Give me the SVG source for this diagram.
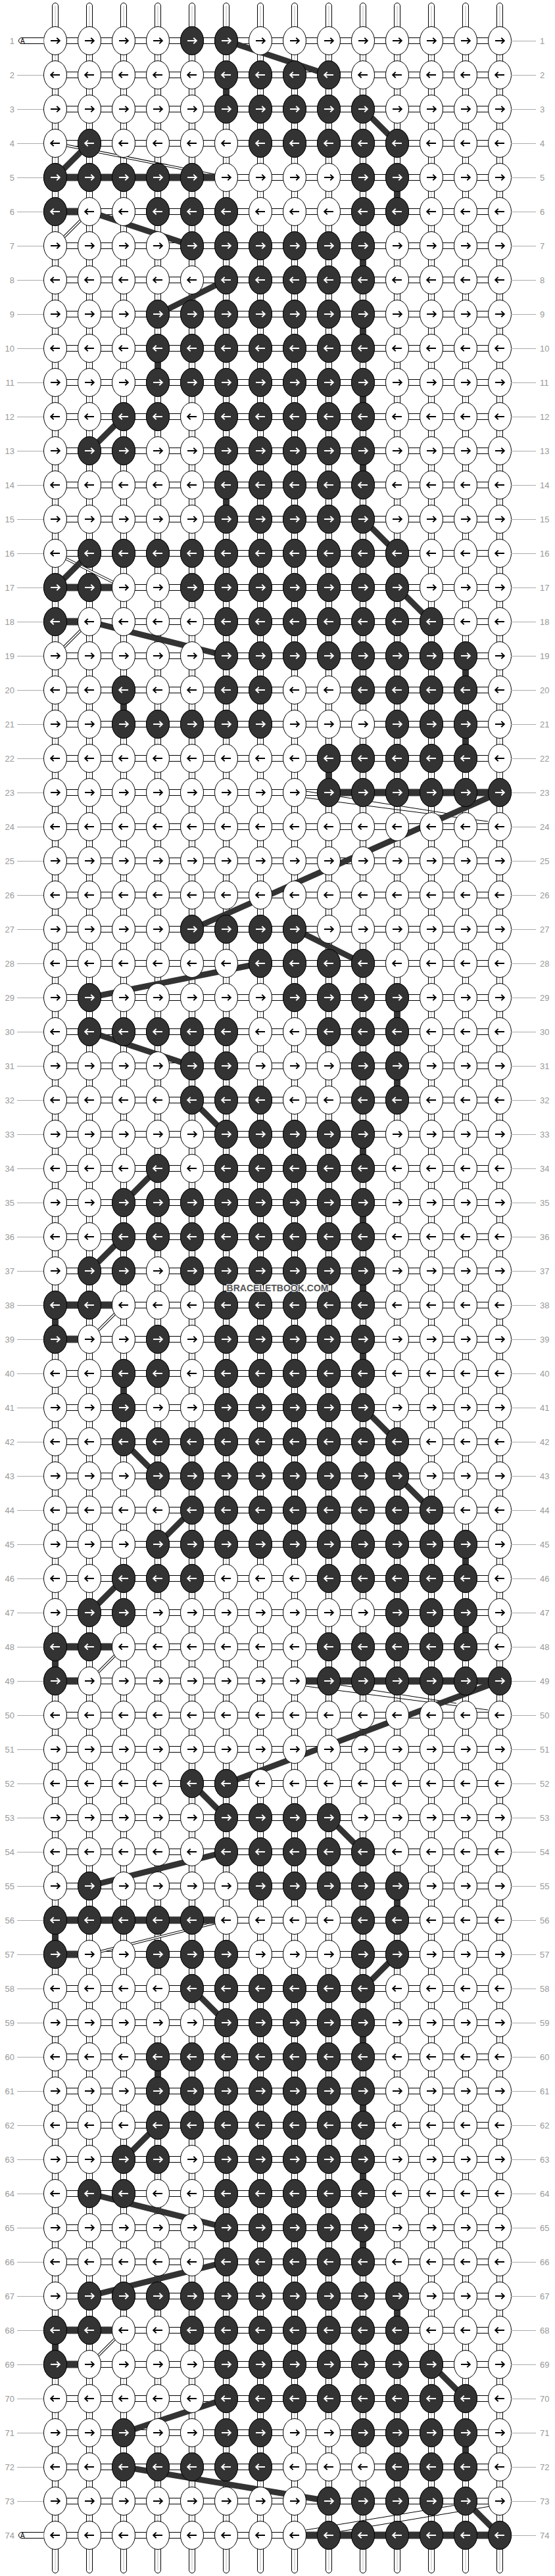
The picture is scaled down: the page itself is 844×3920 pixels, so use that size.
<svg xmlns="http://www.w3.org/2000/svg" xmlns:xlink="http://www.w3.org/1999/xlink" width="844" height="3920" viewBox="0 0 844 3920">
<style>
text{font-family:"Liberation Sans",Arial,sans-serif}
.n{font-size:13px;fill:#999}
.l{text-anchor:end}
.gl{stroke:#aaa;stroke-width:1;fill:none}
.R{fill:url(#dkR)}
.L{fill:url(#dkL)}
.wo{stroke:#000;stroke-width:4;fill:none}
.wi{stroke:#fff;stroke-width:2;fill:none}
</style>
<defs>
<pattern id="hbar" patternUnits="userSpaceOnUse" x="84" y="36" width="52" height="52"><rect y="21.5" width="52" height="9" fill="#fff"/><path d="M0,21.5H52M0,30.5H52" stroke="#000"/></pattern>
<pattern id="vbar" patternUnits="userSpaceOnUse" x="58" y="36" width="52" height="52"><rect x="21.5" width="9" height="52" fill="#fff"/><path d="M21.5,0V52M30.5,0V52" stroke="#000"/><path d="M26,0V52" stroke="#bbb"/></pattern>
<pattern id="stubT" patternUnits="userSpaceOnUse" x="58" y="4" width="52" height="40"><rect x="21.5" y="0.5" width="9" height="50" rx="4.5" fill="#fff" stroke="#000"/><path d="M26,5V40" stroke="#bbb"/></pattern>
<pattern id="stubB" patternUnits="userSpaceOnUse" x="58" y="3876" width="52" height="40"><rect x="21.5" y="-11" width="9" height="50.5" rx="4.5" fill="#fff" stroke="#000"/><path d="M26,0V35" stroke="#bbb"/></pattern>
<pattern id="wk" patternUnits="userSpaceOnUse" x="58" y="36" width="52" height="104"><ellipse cx="26" cy="26" rx="17.5" ry="21.5" fill="#fff" stroke="#000"/><path d="M19,26H32.5M28.3,21.6L32.8,26L28.3,30.4" fill="none" stroke="#000" stroke-width="2"/><ellipse cx="26" cy="78" rx="17.5" ry="21.5" fill="#fff" stroke="#000"/><path d="M33,78H19.5M23.7,73.6L19.2,78L23.7,82.4" fill="none" stroke="#000" stroke-width="2"/></pattern>
<pattern id="dkR" patternUnits="userSpaceOnUse" x="58" y="-26" width="52" height="52"><ellipse cx="26" cy="26" rx="17.5" ry="21.5" fill="#333" stroke="#000"/><path d="M19,26H32.5M28.3,21.6L32.8,26L28.3,30.4" fill="none" stroke="#fff" stroke-width="2"/></pattern>
<pattern id="dkL" patternUnits="userSpaceOnUse" x="58" y="-26" width="52" height="52"><ellipse cx="26" cy="26" rx="17.5" ry="21.5" fill="#333" stroke="#000"/><path d="M33,26H19.5M23.7,21.6L19.2,26L23.7,30.4" fill="none" stroke="#fff" stroke-width="2"/></pattern>
<path id="wt" d="M84,218L344,270M136,322L84,374M84,842L188,894M136,946L84,998M188,1986L136,2038M188,2506L136,2558M344,2922L136,2974M188,3546L136,3598"/>
</defs>
<rect width="844" height="3920" fill="#fff"/>
<g id="strings">
<rect x="84" y="36" width="676" height="3848" fill="url(#hbar)"/>
<rect x="58" y="62" width="728" height="3796" fill="url(#vbar)"/>
<rect x="58" y="4" width="728" height="40" fill="url(#stubT)"/>
<rect x="58" y="3876" width="728" height="40" fill="url(#stubB)"/>
</g>
<g id="connectors">
<use href="#wt" class="wo"/><use href="#wt" class="wi"/>
<path fill="none" stroke="#000" stroke-width="1" d="M465,1204L694,1240M465,1214L742,1250M465,2556L694,2592M465,2566L742,2602M465,3850L694,3812M465,3861L745,3814"/>
<path fill="#333" d="M84,264.5h260v11h-260zM84,316.5h52v11h-52zM84,888.5h104v11h-104zM84,940.5h52v11h-52zM500,1200.5h260v11h-260zM84,1980.5h104v11h-104zM84,2032.5h52v11h-52zM84,2500.5h104v11h-104zM84,2552.5h52v11h-52zM448,2552.5h312v11h-312zM84,2916.5h260v11h-260zM84,2968.5h52v11h-52zM84,3540.5h104v11h-104zM84,3592.5h52v11h-52zM448,3852.5h312v11h-312z"/>
<path fill="#333" d="M339,129h10v22h-10zM599,285h10v22h-10zM547,389h10v22h-10zM547,493h10v22h-10zM235,545h10v22h-10zM547,597h10v22h-10zM547,701h10v22h-10zM339,753h10v22h-10zM703,1013h10v22h-10zM183,1065h10v22h-10zM703,1117h10v22h-10zM495,1169h10v22h-10zM599,1533h10v22h-10zM599,1637h10v22h-10zM547,1741h10v22h-10zM547,1845h10v22h-10zM547,1949h10v22h-10zM79,2001h10v22h-10zM547,2053h10v22h-10zM183,2105h10v22h-10zM703,2365h10v22h-10zM703,2469h10v22h-10zM79,2521h10v22h-10zM599,2885h10v22h-10zM79,2937h10v22h-10zM547,3093h10v22h-10zM235,3145h10v22h-10zM547,3197h10v22h-10zM547,3301h10v22h-10zM547,3405h10v22h-10zM599,3509h10v22h-10zM79,3561h10v22h-10zM703,3717h10v22h-10z"/>
<path fill="none" stroke="#333" stroke-width="9" d="M344,62L500,114M552,166L604,218M84,270L136,218M136,322L292,374M344,426L240,478M188,634L136,686M552,790L604,842M84,894L136,842M604,894L656,946M136,946L344,998M760,1206L292,1414M448,1414L552,1466M396,1466L136,1518M136,1570L292,1622M292,1674L344,1726M240,1778L188,1830M188,1882L136,1934M552,2142L604,2194M188,2194L240,2246M604,2246L656,2298M292,2298L240,2350M188,2402L136,2454M760,2558L344,2714M292,2714L344,2766M500,2766L552,2818M344,2818L136,2870M604,2974L552,3026M292,3026L344,3078M240,3234L188,3286M136,3338L344,3390M344,3442L136,3494M656,3598L708,3650M344,3650L188,3702M188,3754L500,3806M708,3806L760,3858"/>
</g>
<g id="knots"><rect x="58" y="36" width="728" height="3848" fill="url(#wk)"/></g>
<g id="rows">
<g id="row-1" transform="translate(0,62)"><path d="M66.5,-4.5H33a4.5,4.5 0 0 0 0,9H66.5" fill="#fff" stroke="#000"/><text x="31" y="4" font-size="10">A</text><path class="gl" d="M777,.5H815"/><text class="n l" x="22" y="4.5">1</text><text class="n" x="821" y="4.5">1</text><rect class="R" x="266" y="-26" width="104" height="52"/></g>
<g id="row-2" transform="translate(0,114)"><path class="gl" d="M26,.5H66M777,.5H815"/><text class="n l" x="22" y="4.5">2</text><text class="n" x="821" y="4.5">2</text><rect class="L" x="318" y="-26" width="208" height="52"/></g>
<g id="row-3" transform="translate(0,166)"><path class="gl" d="M26,.5H66M777,.5H815"/><text class="n l" x="22" y="4.5">3</text><text class="n" x="821" y="4.5">3</text><rect class="R" x="318" y="-26" width="260" height="52"/></g>
<g id="row-4" transform="translate(0,218)"><path class="gl" d="M26,.5H66M777,.5H815"/><text class="n l" x="22" y="4.5">4</text><text class="n" x="821" y="4.5">4</text><rect class="L" x="110" y="-26" width="52" height="52"/><rect class="L" x="370" y="-26" width="260" height="52"/></g>
<g id="row-5" transform="translate(0,270)"><path class="gl" d="M26,.5H66M777,.5H815"/><text class="n l" x="22" y="4.5">5</text><text class="n" x="821" y="4.5">5</text><rect class="R" x="58" y="-26" width="260" height="52"/><rect class="R" x="526" y="-26" width="104" height="52"/></g>
<g id="row-6" transform="translate(0,322)"><path class="gl" d="M26,.5H66M777,.5H815"/><text class="n l" x="22" y="4.5">6</text><text class="n" x="821" y="4.5">6</text><rect class="L" x="58" y="-26" width="52" height="52"/><rect class="L" x="214" y="-26" width="156" height="52"/><rect class="L" x="526" y="-26" width="104" height="52"/></g>
<g id="row-7" transform="translate(0,374)"><path class="gl" d="M26,.5H66M777,.5H815"/><text class="n l" x="22" y="4.5">7</text><text class="n" x="821" y="4.5">7</text><rect class="R" x="266" y="-26" width="312" height="52"/></g>
<g id="row-8" transform="translate(0,426)"><path class="gl" d="M26,.5H66M777,.5H815"/><text class="n l" x="22" y="4.5">8</text><text class="n" x="821" y="4.5">8</text><rect class="L" x="318" y="-26" width="260" height="52"/></g>
<g id="row-9" transform="translate(0,478)"><path class="gl" d="M26,.5H66M777,.5H815"/><text class="n l" x="22" y="4.5">9</text><text class="n" x="821" y="4.5">9</text><rect class="R" x="214" y="-26" width="364" height="52"/></g>
<g id="row-10" transform="translate(0,530)"><path class="gl" d="M26,.5H66M777,.5H815"/><text class="n l" x="22" y="4.5">10</text><text class="n" x="821" y="4.5">10</text><rect class="L" x="214" y="-26" width="364" height="52"/></g>
<g id="row-11" transform="translate(0,582)"><path class="gl" d="M26,.5H66M777,.5H815"/><text class="n l" x="22" y="4.5">11</text><text class="n" x="821" y="4.5">11</text><rect class="R" x="214" y="-26" width="364" height="52"/></g>
<g id="row-12" transform="translate(0,634)"><path class="gl" d="M26,.5H66M777,.5H815"/><text class="n l" x="22" y="4.5">12</text><text class="n" x="821" y="4.5">12</text><rect class="L" x="162" y="-26" width="104" height="52"/><rect class="L" x="318" y="-26" width="260" height="52"/></g>
<g id="row-13" transform="translate(0,686)"><path class="gl" d="M26,.5H66M777,.5H815"/><text class="n l" x="22" y="4.5">13</text><text class="n" x="821" y="4.5">13</text><rect class="R" x="110" y="-26" width="104" height="52"/><rect class="R" x="318" y="-26" width="260" height="52"/></g>
<g id="row-14" transform="translate(0,738)"><path class="gl" d="M26,.5H66M777,.5H815"/><text class="n l" x="22" y="4.5">14</text><text class="n" x="821" y="4.5">14</text><rect class="L" x="318" y="-26" width="260" height="52"/></g>
<g id="row-15" transform="translate(0,790)"><path class="gl" d="M26,.5H66M777,.5H815"/><text class="n l" x="22" y="4.5">15</text><text class="n" x="821" y="4.5">15</text><rect class="R" x="318" y="-26" width="260" height="52"/></g>
<g id="row-16" transform="translate(0,842)"><path class="gl" d="M26,.5H66M777,.5H815"/><text class="n l" x="22" y="4.5">16</text><text class="n" x="821" y="4.5">16</text><rect class="L" x="110" y="-26" width="520" height="52"/></g>
<g id="row-17" transform="translate(0,894)"><path class="gl" d="M26,.5H66M777,.5H815"/><text class="n l" x="22" y="4.5">17</text><text class="n" x="821" y="4.5">17</text><rect class="R" x="58" y="-26" width="104" height="52"/><rect class="R" x="266" y="-26" width="364" height="52"/></g>
<g id="row-18" transform="translate(0,946)"><path class="gl" d="M26,.5H66M777,.5H815"/><text class="n l" x="22" y="4.5">18</text><text class="n" x="821" y="4.5">18</text><rect class="L" x="58" y="-26" width="52" height="52"/><rect class="L" x="318" y="-26" width="364" height="52"/></g>
<g id="row-19" transform="translate(0,998)"><path class="gl" d="M26,.5H66M777,.5H815"/><text class="n l" x="22" y="4.5">19</text><text class="n" x="821" y="4.5">19</text><rect class="R" x="318" y="-26" width="416" height="52"/></g>
<g id="row-20" transform="translate(0,1050)"><path class="gl" d="M26,.5H66M777,.5H815"/><text class="n l" x="22" y="4.5">20</text><text class="n" x="821" y="4.5">20</text><rect class="L" x="162" y="-26" width="52" height="52"/><rect class="L" x="318" y="-26" width="104" height="52"/><rect class="L" x="526" y="-26" width="208" height="52"/></g>
<g id="row-21" transform="translate(0,1102)"><path class="gl" d="M26,.5H66M777,.5H815"/><text class="n l" x="22" y="4.5">21</text><text class="n" x="821" y="4.5">21</text><rect class="R" x="162" y="-26" width="260" height="52"/><rect class="R" x="578" y="-26" width="156" height="52"/></g>
<g id="row-22" transform="translate(0,1154)"><path class="gl" d="M26,.5H66M777,.5H815"/><text class="n l" x="22" y="4.5">22</text><text class="n" x="821" y="4.5">22</text><rect class="L" x="474" y="-26" width="260" height="52"/></g>
<g id="row-23" transform="translate(0,1206)"><path class="gl" d="M26,.5H66M777,.5H815"/><text class="n l" x="22" y="4.5">23</text><text class="n" x="821" y="4.5">23</text><rect class="R" x="474" y="-26" width="312" height="52"/></g>
<g id="row-24" transform="translate(0,1258)"><path class="gl" d="M26,.5H66M777,.5H815"/><text class="n l" x="22" y="4.5">24</text><text class="n" x="821" y="4.5">24</text></g>
<g id="row-25" transform="translate(0,1310)"><path class="gl" d="M26,.5H66M777,.5H815"/><text class="n l" x="22" y="4.5">25</text><text class="n" x="821" y="4.5">25</text></g>
<g id="row-26" transform="translate(0,1362)"><path class="gl" d="M26,.5H66M777,.5H815"/><text class="n l" x="22" y="4.5">26</text><text class="n" x="821" y="4.5">26</text></g>
<g id="row-27" transform="translate(0,1414)"><path class="gl" d="M26,.5H66M777,.5H815"/><text class="n l" x="22" y="4.5">27</text><text class="n" x="821" y="4.5">27</text><rect class="R" x="266" y="-26" width="208" height="52"/></g>
<g id="row-28" transform="translate(0,1466)"><path class="gl" d="M26,.5H66M777,.5H815"/><text class="n l" x="22" y="4.5">28</text><text class="n" x="821" y="4.5">28</text><rect class="L" x="370" y="-26" width="208" height="52"/></g>
<g id="row-29" transform="translate(0,1518)"><path class="gl" d="M26,.5H66M777,.5H815"/><text class="n l" x="22" y="4.5">29</text><text class="n" x="821" y="4.5">29</text><rect class="R" x="110" y="-26" width="52" height="52"/><rect class="R" x="422" y="-26" width="208" height="52"/></g>
<g id="row-30" transform="translate(0,1570)"><path class="gl" d="M26,.5H66M777,.5H815"/><text class="n l" x="22" y="4.5">30</text><text class="n" x="821" y="4.5">30</text><rect class="L" x="110" y="-26" width="260" height="52"/><rect class="L" x="474" y="-26" width="156" height="52"/></g>
<g id="row-31" transform="translate(0,1622)"><path class="gl" d="M26,.5H66M777,.5H815"/><text class="n l" x="22" y="4.5">31</text><text class="n" x="821" y="4.5">31</text><rect class="R" x="266" y="-26" width="104" height="52"/><rect class="R" x="526" y="-26" width="104" height="52"/></g>
<g id="row-32" transform="translate(0,1674)"><path class="gl" d="M26,.5H66M777,.5H815"/><text class="n l" x="22" y="4.5">32</text><text class="n" x="821" y="4.5">32</text><rect class="L" x="266" y="-26" width="156" height="52"/><rect class="L" x="526" y="-26" width="104" height="52"/></g>
<g id="row-33" transform="translate(0,1726)"><path class="gl" d="M26,.5H66M777,.5H815"/><text class="n l" x="22" y="4.5">33</text><text class="n" x="821" y="4.5">33</text><rect class="R" x="318" y="-26" width="260" height="52"/></g>
<g id="row-34" transform="translate(0,1778)"><path class="gl" d="M26,.5H66M777,.5H815"/><text class="n l" x="22" y="4.5">34</text><text class="n" x="821" y="4.5">34</text><rect class="L" x="214" y="-26" width="52" height="52"/><rect class="L" x="318" y="-26" width="260" height="52"/></g>
<g id="row-35" transform="translate(0,1830)"><path class="gl" d="M26,.5H66M777,.5H815"/><text class="n l" x="22" y="4.5">35</text><text class="n" x="821" y="4.5">35</text><rect class="R" x="162" y="-26" width="416" height="52"/></g>
<g id="row-36" transform="translate(0,1882)"><path class="gl" d="M26,.5H66M777,.5H815"/><text class="n l" x="22" y="4.5">36</text><text class="n" x="821" y="4.5">36</text><rect class="L" x="162" y="-26" width="416" height="52"/></g>
<g id="row-37" transform="translate(0,1934)"><path class="gl" d="M26,.5H66M777,.5H815"/><text class="n l" x="22" y="4.5">37</text><text class="n" x="821" y="4.5">37</text><rect class="R" x="110" y="-26" width="104" height="52"/><rect class="R" x="266" y="-26" width="312" height="52"/></g>
<g id="row-38" transform="translate(0,1986)"><path class="gl" d="M26,.5H66M777,.5H815"/><text class="n l" x="22" y="4.5">38</text><text class="n" x="821" y="4.5">38</text><rect class="L" x="58" y="-26" width="104" height="52"/><rect class="L" x="318" y="-26" width="260" height="52"/></g>
<g id="row-39" transform="translate(0,2038)"><path class="gl" d="M26,.5H66M777,.5H815"/><text class="n l" x="22" y="4.5">39</text><text class="n" x="821" y="4.5">39</text><rect class="R" x="58" y="-26" width="52" height="52"/><rect class="R" x="214" y="-26" width="52" height="52"/><rect class="R" x="318" y="-26" width="260" height="52"/></g>
<g id="row-40" transform="translate(0,2090)"><path class="gl" d="M26,.5H66M777,.5H815"/><text class="n l" x="22" y="4.5">40</text><text class="n" x="821" y="4.5">40</text><rect class="L" x="162" y="-26" width="104" height="52"/><rect class="L" x="318" y="-26" width="260" height="52"/></g>
<g id="row-41" transform="translate(0,2142)"><path class="gl" d="M26,.5H66M777,.5H815"/><text class="n l" x="22" y="4.5">41</text><text class="n" x="821" y="4.5">41</text><rect class="R" x="162" y="-26" width="52" height="52"/><rect class="R" x="318" y="-26" width="260" height="52"/></g>
<g id="row-42" transform="translate(0,2194)"><path class="gl" d="M26,.5H66M777,.5H815"/><text class="n l" x="22" y="4.5">42</text><text class="n" x="821" y="4.5">42</text><rect class="L" x="162" y="-26" width="468" height="52"/></g>
<g id="row-43" transform="translate(0,2246)"><path class="gl" d="M26,.5H66M777,.5H815"/><text class="n l" x="22" y="4.5">43</text><text class="n" x="821" y="4.5">43</text><rect class="R" x="214" y="-26" width="416" height="52"/></g>
<g id="row-44" transform="translate(0,2298)"><path class="gl" d="M26,.5H66M777,.5H815"/><text class="n l" x="22" y="4.5">44</text><text class="n" x="821" y="4.5">44</text><rect class="L" x="266" y="-26" width="416" height="52"/></g>
<g id="row-45" transform="translate(0,2350)"><path class="gl" d="M26,.5H66M777,.5H815"/><text class="n l" x="22" y="4.5">45</text><text class="n" x="821" y="4.5">45</text><rect class="R" x="214" y="-26" width="520" height="52"/></g>
<g id="row-46" transform="translate(0,2402)"><path class="gl" d="M26,.5H66M777,.5H815"/><text class="n l" x="22" y="4.5">46</text><text class="n" x="821" y="4.5">46</text><rect class="L" x="162" y="-26" width="156" height="52"/><rect class="L" x="474" y="-26" width="260" height="52"/></g>
<g id="row-47" transform="translate(0,2454)"><path class="gl" d="M26,.5H66M777,.5H815"/><text class="n l" x="22" y="4.5">47</text><text class="n" x="821" y="4.5">47</text><rect class="R" x="110" y="-26" width="104" height="52"/><rect class="R" x="578" y="-26" width="156" height="52"/></g>
<g id="row-48" transform="translate(0,2506)"><path class="gl" d="M26,.5H66M777,.5H815"/><text class="n l" x="22" y="4.5">48</text><text class="n" x="821" y="4.5">48</text><rect class="L" x="58" y="-26" width="104" height="52"/><rect class="L" x="474" y="-26" width="260" height="52"/></g>
<g id="row-49" transform="translate(0,2558)"><path class="gl" d="M26,.5H66M777,.5H815"/><text class="n l" x="22" y="4.5">49</text><text class="n" x="821" y="4.5">49</text><rect class="R" x="58" y="-26" width="52" height="52"/><rect class="R" x="474" y="-26" width="312" height="52"/></g>
<g id="row-50" transform="translate(0,2610)"><path class="gl" d="M26,.5H66M777,.5H815"/><text class="n l" x="22" y="4.5">50</text><text class="n" x="821" y="4.5">50</text></g>
<g id="row-51" transform="translate(0,2662)"><path class="gl" d="M26,.5H66M777,.5H815"/><text class="n l" x="22" y="4.5">51</text><text class="n" x="821" y="4.5">51</text></g>
<g id="row-52" transform="translate(0,2714)"><path class="gl" d="M26,.5H66M777,.5H815"/><text class="n l" x="22" y="4.5">52</text><text class="n" x="821" y="4.5">52</text><rect class="L" x="266" y="-26" width="104" height="52"/></g>
<g id="row-53" transform="translate(0,2766)"><path class="gl" d="M26,.5H66M777,.5H815"/><text class="n l" x="22" y="4.5">53</text><text class="n" x="821" y="4.5">53</text><rect class="R" x="318" y="-26" width="208" height="52"/></g>
<g id="row-54" transform="translate(0,2818)"><path class="gl" d="M26,.5H66M777,.5H815"/><text class="n l" x="22" y="4.5">54</text><text class="n" x="821" y="4.5">54</text><rect class="L" x="318" y="-26" width="260" height="52"/></g>
<g id="row-55" transform="translate(0,2870)"><path class="gl" d="M26,.5H66M777,.5H815"/><text class="n l" x="22" y="4.5">55</text><text class="n" x="821" y="4.5">55</text><rect class="R" x="110" y="-26" width="52" height="52"/><rect class="R" x="370" y="-26" width="260" height="52"/></g>
<g id="row-56" transform="translate(0,2922)"><path class="gl" d="M26,.5H66M777,.5H815"/><text class="n l" x="22" y="4.5">56</text><text class="n" x="821" y="4.5">56</text><rect class="L" x="58" y="-26" width="260" height="52"/><rect class="L" x="526" y="-26" width="104" height="52"/></g>
<g id="row-57" transform="translate(0,2974)"><path class="gl" d="M26,.5H66M777,.5H815"/><text class="n l" x="22" y="4.5">57</text><text class="n" x="821" y="4.5">57</text><rect class="R" x="58" y="-26" width="52" height="52"/><rect class="R" x="214" y="-26" width="156" height="52"/><rect class="R" x="526" y="-26" width="104" height="52"/></g>
<g id="row-58" transform="translate(0,3026)"><path class="gl" d="M26,.5H66M777,.5H815"/><text class="n l" x="22" y="4.5">58</text><text class="n" x="821" y="4.5">58</text><rect class="L" x="266" y="-26" width="312" height="52"/></g>
<g id="row-59" transform="translate(0,3078)"><path class="gl" d="M26,.5H66M777,.5H815"/><text class="n l" x="22" y="4.5">59</text><text class="n" x="821" y="4.5">59</text><rect class="R" x="318" y="-26" width="260" height="52"/></g>
<g id="row-60" transform="translate(0,3130)"><path class="gl" d="M26,.5H66M777,.5H815"/><text class="n l" x="22" y="4.5">60</text><text class="n" x="821" y="4.5">60</text><rect class="L" x="214" y="-26" width="364" height="52"/></g>
<g id="row-61" transform="translate(0,3182)"><path class="gl" d="M26,.5H66M777,.5H815"/><text class="n l" x="22" y="4.5">61</text><text class="n" x="821" y="4.5">61</text><rect class="R" x="214" y="-26" width="364" height="52"/></g>
<g id="row-62" transform="translate(0,3234)"><path class="gl" d="M26,.5H66M777,.5H815"/><text class="n l" x="22" y="4.5">62</text><text class="n" x="821" y="4.5">62</text><rect class="L" x="214" y="-26" width="364" height="52"/></g>
<g id="row-63" transform="translate(0,3286)"><path class="gl" d="M26,.5H66M777,.5H815"/><text class="n l" x="22" y="4.5">63</text><text class="n" x="821" y="4.5">63</text><rect class="R" x="162" y="-26" width="104" height="52"/><rect class="R" x="318" y="-26" width="260" height="52"/></g>
<g id="row-64" transform="translate(0,3338)"><path class="gl" d="M26,.5H66M777,.5H815"/><text class="n l" x="22" y="4.5">64</text><text class="n" x="821" y="4.5">64</text><rect class="L" x="110" y="-26" width="104" height="52"/><rect class="L" x="318" y="-26" width="260" height="52"/></g>
<g id="row-65" transform="translate(0,3390)"><path class="gl" d="M26,.5H66M777,.5H815"/><text class="n l" x="22" y="4.5">65</text><text class="n" x="821" y="4.5">65</text><rect class="R" x="318" y="-26" width="260" height="52"/></g>
<g id="row-66" transform="translate(0,3442)"><path class="gl" d="M26,.5H66M777,.5H815"/><text class="n l" x="22" y="4.5">66</text><text class="n" x="821" y="4.5">66</text><rect class="L" x="318" y="-26" width="260" height="52"/></g>
<g id="row-67" transform="translate(0,3494)"><path class="gl" d="M26,.5H66M777,.5H815"/><text class="n l" x="22" y="4.5">67</text><text class="n" x="821" y="4.5">67</text><rect class="R" x="110" y="-26" width="520" height="52"/></g>
<g id="row-68" transform="translate(0,3546)"><path class="gl" d="M26,.5H66M777,.5H815"/><text class="n l" x="22" y="4.5">68</text><text class="n" x="821" y="4.5">68</text><rect class="L" x="58" y="-26" width="104" height="52"/><rect class="L" x="266" y="-26" width="364" height="52"/></g>
<g id="row-69" transform="translate(0,3598)"><path class="gl" d="M26,.5H66M777,.5H815"/><text class="n l" x="22" y="4.5">69</text><text class="n" x="821" y="4.5">69</text><rect class="R" x="58" y="-26" width="52" height="52"/><rect class="R" x="318" y="-26" width="364" height="52"/></g>
<g id="row-70" transform="translate(0,3650)"><path class="gl" d="M26,.5H66M777,.5H815"/><text class="n l" x="22" y="4.5">70</text><text class="n" x="821" y="4.5">70</text><rect class="L" x="318" y="-26" width="416" height="52"/></g>
<g id="row-71" transform="translate(0,3702)"><path class="gl" d="M26,.5H66M777,.5H815"/><text class="n l" x="22" y="4.5">71</text><text class="n" x="821" y="4.5">71</text><rect class="R" x="162" y="-26" width="52" height="52"/><rect class="R" x="318" y="-26" width="104" height="52"/><rect class="R" x="526" y="-26" width="208" height="52"/></g>
<g id="row-72" transform="translate(0,3754)"><path class="gl" d="M26,.5H66M777,.5H815"/><text class="n l" x="22" y="4.5">72</text><text class="n" x="821" y="4.5">72</text><rect class="L" x="162" y="-26" width="260" height="52"/><rect class="L" x="578" y="-26" width="156" height="52"/></g>
<g id="row-73" transform="translate(0,3806)"><path class="gl" d="M26,.5H66M777,.5H815"/><text class="n l" x="22" y="4.5">73</text><text class="n" x="821" y="4.5">73</text><rect class="R" x="474" y="-26" width="260" height="52"/></g>
<g id="row-74" transform="translate(0,3858)"><path d="M66.5,-4.5H33a4.5,4.5 0 0 0 0,9H66.5" fill="#fff" stroke="#000"/><text x="31" y="4" font-size="10">A</text><path class="gl" d="M777,.5H815"/><text class="n l" x="22" y="4.5">74</text><text class="n" x="821" y="4.5">74</text><rect class="L" x="474" y="-26" width="312" height="52"/></g>
</g>
<text id="watermark" x="422" y="1965" text-anchor="middle" font-weight="bold" font-size="15" fill="#555" stroke="#fff" stroke-width="2" paint-order="stroke" textLength="155" lengthAdjust="spacingAndGlyphs">BRACELETBOOK.COM</text>
</svg>
